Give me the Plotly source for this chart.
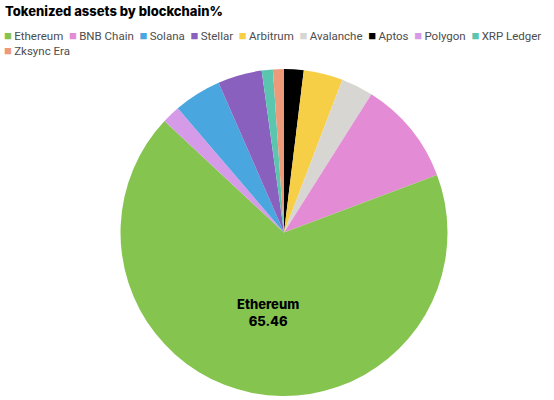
import plotly.graph_objects as go

# slices go clockwise from 12 o'clock in alphabetical order
chains = ["Aptos", "Arbitrum", "Avalanche", "BNB Chain", "Ethereum",
          "Polygon", "Solana", "Stellar", "XRP Ledger", "Zksync Era"]
share_pct = [1.87, 3.75, 3.06, 9.97, 65.46, 1.74, 4.55, 4.23, 1.06, 1.05]
chain_colors = ["#000000", "#f7cf47", "#d7d6d3", "#e48bd5", "#86c450",
                "#d69be8", "#4aa6de", "#8a60be", "#5bc6b0", "#ec9a79"]

TITLE = "Tokenized assets by blockchain%"
FONT = "Inter"

# only the biggest slice gets a label
top = max(share_pct)
slice_text = [f"{c}<br>{v:.2f}" if v == top else "" for c, v in zip(chains, share_pct)]

fig = go.Figure()
fig.add_trace(go.Pie(
    labels=chains,
    values=share_pct,
    text=slice_text,
    textinfo="text",
    textposition="inside",
    insidetextorientation="horizontal",
    insidetextfont=dict(family=FONT, size=13, color="#000000", weight=800),
    marker=dict(colors=chain_colors, line=dict(width=0)),
    sort=False,
    direction="clockwise",
    rotation=0,
    showlegend=False,
    domain=dict(x=[0.0253, 1.0], y=[0, 1]),
    hovertemplate="%{label}: %{value}<extra></extra>",
))

# legend rows, ordered by share like the original
legend_order = sorted(zip(share_pct, chains, chain_colors), key=lambda t: -t[0])
items = [f'<span style="color:{col};font-size:13px">\u25a0</span>\u2009{name}'
         for _, name, col in legend_order]
row1 = "\u00a0\u00a0".join(items[:9])
row2 = items[9]

fig.add_annotation(
    text=row1 + "<br>" + row2,
    xref="paper", yref="paper",
    x=0.004, y=1.078,
    xanchor="left", yanchor="middle",
    align="left",
    showarrow=False,
    font=dict(family="Roboto", size=11.5, color="#4d4d4d"),
)

fig.update_layout(
    title=dict(
        text=TITLE,
        x=5 / 554, xanchor="left",
        y=1 - 11.5 / 400, yanchor="middle",
        font=dict(family=FONT, size=13, color="#000000", weight=800),
    ),
    width=554,
    height=400,
    margin=dict(l=0, r=0, t=69, b=4),
    paper_bgcolor="#ffffff",
    plot_bgcolor="#ffffff",
)

# page body has a default 8px margin; drop it so the chart sits at 0,0
fig.write_html(
    "out.html",
    config={"displayModeBar": False},
    post_script="document.body.style.margin = '0';",
)
